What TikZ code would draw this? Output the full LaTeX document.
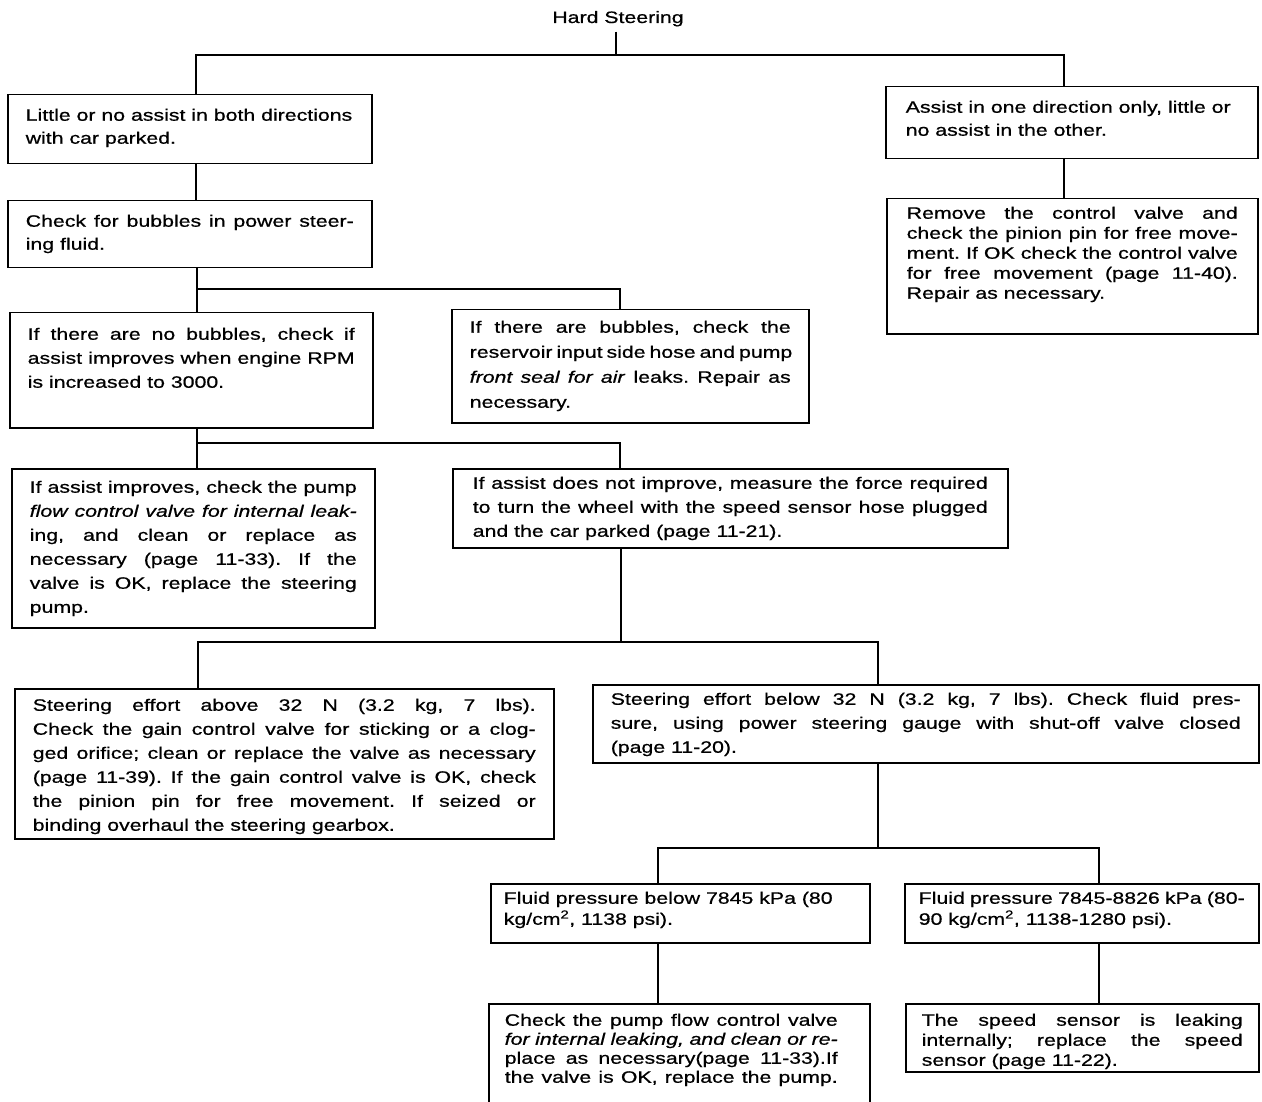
\documentclass[tikz,border=0pt]{standalone}
\usepackage{fontspec}
\setmainfont{Liberation Sans}[FakeStretch=1.29, FakeBold=0.7]
\frenchspacing

% one text line filled to the box width, and one set flush left
\newcommand\jl[1]{\hbox to\hsize{#1}}
\newcommand\rl[1]{\hbox to\hsize{#1\hfil}}
% block of lines: #1 line width (pt), #2 line spacing (pt), #3 lines
\newcommand\bx[3]{\vtop{\hsize=#1pt\relax\baselineskip=#2pt\relax
  \lineskiplimit=-100pt\relax\parindent=0pt\relax #3}}

\tikzset{
  lbl/.style={font=\fontsize{16.5pt}{20pt}\selectfont},
  tbox/.style n args={3}{lbl, draw, line width=1.5pt, anchor=north west,
    inner ysep=0pt, inner xsep=#1pt, text height=#2pt, text depth=#3pt},
  link/.style={line width=1.5pt},
}

\begin{document}
\begin{tikzpicture}[x=1pt, y=-1pt]
\fill[white] (0,0) rectangle (1262,1102);
\useasboundingbox (0,0) rectangle (1262,1102);

% title
\node[lbl, anchor=base, inner sep=5pt] (title) at (618,23) {Hard Steering};

% left branch
\node[tbox={18}{26}{43}] (A) at (7,94) {\bx{328}{23}{%
  \rl{Little or no assist in both directions}
  \rl{with car parked.}}};
\node[tbox={18}{26}{41}] (B) at (7,200) {\bx{328}{23}{%
  \jl{Check for bubbles in power steer-}
  \rl{ing fluid.}}};
\node[tbox={18}{27}{88}] (E) at (9,312) {\bx{327}{24}{%
  \jl{If there are no bubbles, check if}
  \jl{assist improves when engine RPM}
  \rl{is increased to 3000.}}};
\node[tbox={18}{23}{90}] (F) at (451,309) {\bx{321}{25}{%
  \jl{If there are bubbles, check the}
  \jl{reservoir input side hose and pump}
  \jl{\textit{front seal for air} leaks. Repair as}
  \rl{necessary.}}};
\node[tbox={18}{24}{135}] (G) at (11,468) {\bx{327}{24}{%
  \jl{If assist improves, check the pump}
  \jl{\textit{flow control valve for internal leak-}}
  \jl{ing, and clean or replace as}
  \jl{necessary (page 11-33). If the}
  \jl{valve is OK, replace the steering}
  \rl{pump.}}};
\node[tbox={20}{20}{59}] (H) at (452,468) {\bx{515}{24}{%
  \jl{If assist does not improve, measure the force required}
  \jl{to turn the wheel with the speed sensor hose plugged}
  \rl{and the car parked (page 11-21).}}};
\node[tbox={18}{22}{128}] (I) at (14,688) {\bx{503}{24}{%
  \jl{Steering effort above 32 N (3.2 kg, 7 lbs).}
  \jl{Check the gain control valve for sticking or a clog-}
  \jl{ged orifice; clean or replace the valve as necessary}
  \jl{(page 11-39). If the gain control valve is OK, check}
  \jl{the pinion pin for free movement. If seized or}
  \rl{binding overhaul the steering gearbox.}}};
\node[tbox={18}{20}{58}] (J) at (592,684) {\bx{630}{24}{%
  \jl{Steering effort below 32 N (3.2 kg, 7 lbs). Check fluid pres-}
  \jl{sure, using power steering gauge with shut-off valve closed}
  \rl{(page 11-20).}}};
\node[tbox={13}{20}{39}] (K) at (490,883) {\bx{353}{21}{%
  \rl{Fluid pressure below 7845 kPa (80}
  \rl{kg/cm\textsuperscript{2}, 1138 psi).}}};
\node[tbox={14}{20}{39}] (L) at (904,883) {\bx{326}{21}{%
  \rl{Fluid pressure 7845-8826 kPa (80-}
  \rl{90 kg/cm\textsuperscript{2}, 1138-1280 psi).}}};
\node[tbox={16}{22}{90}] (M) at (488,1003) {\bx{333}{19}{%
  \jl{Check the pump flow control valve}
  \jl{\textit{for internal leaking, and clean or re-}}
  \jl{place as necessary(page 11-33).If}
  \jl{the valve is OK, replace the pump.}}\kern16pt};
\node[tbox={16}{22}{46}] (N) at (905,1003) {\bx{321}{20}{%
  \jl{The speed sensor is leaking}
  \jl{internally; replace the speed}
  \rl{sensor (page 11-22).}}};

% right branch
\node[tbox={20}{26}{46}] (C) at (885,86) {\bx{332}{23}{%
  \rl{Assist in one direction only, little or}
  \rl{no assist in the other.}}};
\node[tbox={20}{20}{115}] (D) at (886,198) {\bx{331}{20}{%
  \jl{Remove the control valve and}
  \jl{check the pinion pin for free move-}
  \jl{ment. If OK check the control valve}
  \jl{for free movement (page 11-40).}
  \rl{Repair as necessary.}}};

% junction points of the connectors
\coordinate (t1) at (616,55);
\coordinate (l1) at (196,55);
\coordinate (r1) at (1064,55);
\coordinate (l2) at (197,289);
\coordinate (r2) at (620,289);
\coordinate (l3) at (197,443);
\coordinate (r3) at (620,443);
\coordinate (c4) at (621,642);
\coordinate (l4) at (198,642);
\coordinate (r4) at (878,642);
\coordinate (c5) at (878,848);
\coordinate (l5) at (658,848);
\coordinate (r5) at (1099,848);

% connectors
\draw[link] (title.south -| t1) -- (t1);
\draw[link] (A.north -| l1) -- (l1) -- (r1) -- (C.north -| r1);
\draw[link] (C.south -| r1) -- (D.north -| r1);
\draw[link] (A.south -| l1) -- (B.north -| l1);
\draw[link] (B.south -| l2) -- (E.north -| l2);
\draw[link] (l2) -- (r2) -- (F.north -| r2);
\draw[link] (E.south -| l3) -- (G.north -| l3);
\draw[link] (l3) -- (r3) -- (H.north -| r3);
\draw[link] (H.south -| c4) -- (c4);
\draw[link] (I.north -| l4) -- (l4) -- (r4) -- (J.north -| r4);
\draw[link] (J.south -| c5) -- (c5);
\draw[link] (K.north -| l5) -- (l5) -- (r5) -- (L.north -| r5);
\draw[link] (K.south -| l5) -- (M.north -| l5);
\draw[link] (L.south -| r5) -- (N.north -| r5);
\end{tikzpicture}
\end{document}
